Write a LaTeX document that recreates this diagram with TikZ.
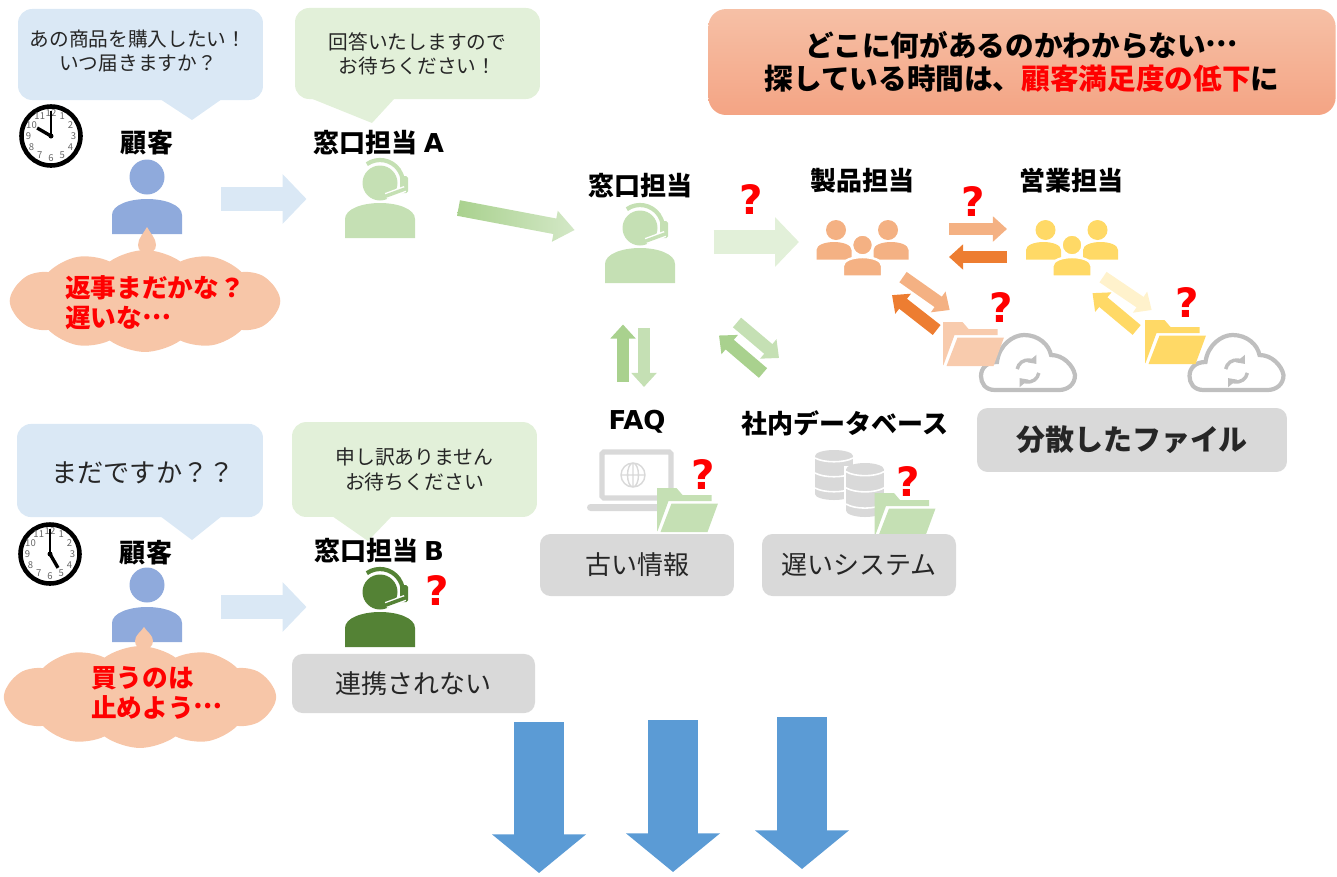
\documentclass[tikz,border=0pt]{standalone}
\usepackage{fontspec}
\setmainfont{Noto Sans CJK JP}
\newfontfamily\latfont{DejaVu Sans}
\usetikzlibrary{calc}
\usetikzlibrary{shapes.symbols}
\usetikzlibrary{arrows.meta}
\definecolor{bubblue}{HTML}{DAE8F5}
\definecolor{bubgreen}{HTML}{E2F0D9}
\definecolor{iconblue}{HTML}{8FAADC}
\definecolor{icongreen}{HTML}{C5E0B4}
\definecolor{icondark}{HTML}{548235}
\definecolor{iconorange}{HTML}{F4B183}
\definecolor{iconyellow}{HTML}{FFD966}
\definecolor{thinkfill}{HTML}{F7C6A8}
\definecolor{greybox}{HTML}{D9D9D9}
\definecolor{cloudgrey}{HTML}{BFBFBF}
\definecolor{midgreen}{HTML}{A9D18E}
\definecolor{deeporange}{HTML}{ED7D31}
\definecolor{paleyellow}{HTML}{FFF2CC}
\definecolor{salmon}{HTML}{F8CBAD}
\definecolor{bannertop}{HTML}{F6C0A6}
\definecolor{bannerlow}{HTML}{F4A484}
\definecolor{bigblue}{HTML}{5B9BD5}
\definecolor{textdark}{HTML}{262626}
\newcommand{\bustpath}{(-35,35) -- (-35,16) .. controls (-35,6) and (-18,0) .. (0,0)
	.. controls (18,0) and (35,6) .. (35,16) -- (35,35) -- cycle}
\newcommand{\middots}{\raisebox{.34em}{…}}
\tikzset{
	bubble/.style={rounded corners=8pt, align=center, inner sep=0pt, text=textdark,
		font=\fontsize{11.2}{13.6}\selectfont},
	tagbox/.style={rounded corners=6pt, fill=greybox, inner sep=0pt, text=textdark,
		font=\fontsize{14.8}{17}\selectfont},
	label/.style={inner sep=0pt, font=\fontsize{14.8}{17}\selectfont\bfseries},
	thought/.style={cloud, cloud ignores aspect, cloud puffs=12, cloud puff arc=72,
		fill=thinkfill, inner sep=0pt},
	thinktext/.style={align=left, inner sep=0pt, text=red,
		font=\fontsize{14.6}{17}\selectfont\bfseries},
	query/.style={inner sep=0pt, text=red, font=\fontsize{23}{23}\latfont\bfseries},
	manbox/.style={inner sep=0pt, minimum width=40pt, minimum height=40pt},
	groupbox/.style={inner sep=0pt, minimum width=52pt, minimum height=35pt},
	folderbox/.style={inner sep=0pt, minimum width=34.7pt, minimum height=25pt},
	clocknum/.style={inner sep=0pt, text=black!60, font=\fontsize{5.4}{5.4}\selectfont},
	smallarrow/.style={line width=7.2pt, -{Triangle[length=8pt,width=14pt]}, draw=#1},
	midarrow/.style={line width=13.8pt, -{Triangle[length=13.6pt,width=27.5pt]}, draw=#1},
	bigarrow/.style={line width=28pt, -{Triangle[length=22pt,width=52.3pt]}, draw=bigblue},
	pics/person/.style={code={
		\fill[#1] (0,-22) circle (17.5);
		\fill[#1] \bustpath;
	}},
	pics/agent/.style={code={
		\fill[#1] (0,-20) circle (17.5);
		\draw[#1, line width=2.4pt] ([shift={(-125:23)}]0,-20) arc (-125:-8:23);
		\fill[#1, rounded corners=1pt] (20,-27) rectangle (28,-10);
		\draw[white, line width=3.6pt] (6,-7) -- (25,-14);
		\draw[#1, line width=2pt, line cap=round] (6,-7) -- (25,-14);
		\fill[#1] \bustpath;
	}},
	pics/crowd/.style={code={
		\fill[#1] (-26,-15) circle (10);
		\fill[#1] (26,-15) circle (10);
		\fill[#1, shift={(-28,-3)}, scale=.5] \bustpath;
		\fill[#1, shift={(29,-3)}, scale=.5] \bustpath;
		\draw[white, line width=1.4pt, fill=#1] (0.5,0) circle (10.5);
		\draw[white, line width=1.4pt, fill=#1, shift={(0.5,12)}, scale=.56] \bustpath;
	}},
	pics/folder/.style={code={
		\fill[#1] (-30.5,-22) -- (-11,-22) -- (-5,-15) -- (24,-15) -- (24,-9) -- (-19,-9)
			-- (-30,21) -- (-30.5,21) -- cycle;
		\fill[#1] (-16,-6.5) -- (30.5,-6.5) -- (20,22) -- (-27,22) -- cycle;
	}},
	pics/syncloud/.style={code={
		\draw[cloudgrey, line width=2.4pt] (-33,27) .. controls (-43,27) and (-47,20) .. (-47,13)
			.. controls (-47,5) and (-41,-1) .. (-31,-1) .. controls (-29,-18) and (-15,-28) .. (-4,-28)
			.. controls (11,-28) and (21,-18) .. (23,-8) .. controls (35,-8) and (45,2) .. (47,12)
			.. controls (47,22) and (39,27) .. (31,27) -- cycle;
		\draw[cloudgrey, line width=2pt, -{Triangle[length=4pt,width=6.5pt]}]
			([shift={(-170:11)}]0,8) arc (-170:-40:11);
		\draw[cloudgrey, line width=2pt, -{Triangle[length=4pt,width=6.5pt]}]
			([shift={(10:11)}]0,8) arc (10:140:11);
	}},
	pics/clock/.style={code={
		\draw[black, line width=2.6pt, fill=white] (0,0) circle (29.5);
		\foreach \h in {1,...,12}
			\node[clocknum] (n\h) at ({22.5*sin(30*\h)},{-22.5*cos(30*\h)}) {\h};
		\draw[black, line width=1.4pt] (0,0) -- (0,-25);
		\draw[black, line width=1.9pt] (0,0) -- ({16*sin(#1)},{-16*cos(#1)});
		\fill[black] (0,0) circle (2.5);
	}},
	pics/laptop/.style={code={
		\draw[greybox, line width=3pt, fill=white, rounded corners=1pt] (-31,-23) rectangle (38,23);
		\draw[greybox, line width=.8pt] (0,0) circle (12) (-12,0) -- (12,0) (0,-12) -- (0,12)
			(0,0) ellipse (5.5 and 12);
		\fill[greybox, rounded corners=2pt] (-46,29) rectangle (32,36);
	}},
	pics/dbstack/.style={code={
		\fill[white] (-21,-22) rectangle (21,24);
		\fill[greybox] (0,-19) ellipse (19 and 6);
		\fill[greybox] (-19,-19) rectangle (19,19);
		\fill[greybox] (0,19) ellipse (19 and 6);
		\foreach \liney in {-17,-2,13}
			\draw[white, line width=.9pt] (-19,\liney) .. controls (-10,\liney+5) and (10,\liney+5) .. (19,\liney);
	}}
}
\begin{document}
\begin{tikzpicture}[x=0.02cm, y=-0.02cm]
\useasboundingbox (0,0) rectangle (1337,876);

% speech bubbles
\fill[bubblue] (160,99) -- (192,120) -- (222,99) -- cycle;
\node[bubble, fill=bubblue, minimum width=139.4pt, minimum height=51.8pt] (bubA) at (140.5,54.5) {};
\node[bubble] (bubAtext) at (138,51) {あの商品を購入したい！\\いつ届きますか？};
\fill[bubgreen] (310,98) -- (372,123) -- (395,98) -- cycle;
\node[bubble, fill=bubgreen, minimum width=139.4pt, minimum height=51.8pt] (bubB) at (417.5,53.5)
	{回答いたしますので\\お待ちください！};
\fill[bubblue] (160,516) -- (192,540) -- (222,516) -- cycle;
\node[bubble, fill=bubblue, minimum width=140pt, minimum height=53pt] (bubC) at (140,470.5) {};
\node[bubble, font=\fontsize{14.9}{17}\selectfont] (bubCtext) at (143,473) {まだですか？？};
\fill[bubgreen] (332,516) -- (368,541) -- (392,516) -- cycle;
\node[bubble, fill=bubgreen, minimum width=139.4pt, minimum height=54pt,
	font=\fontsize{11.3}{14.6}\selectfont] (bubD) at (414.5,469.5)
	{申し訳ありません\\お待ちください};

% banner
\node[rounded corners=10pt, top color=bannertop, bottom color=bannerlow,
	minimum width=357pt, minimum height=60.3pt, inner sep=0pt, align=center,
	font=\fontsize{16.3}{18.8}\selectfont\bfseries] (banner) at (1022,62)
	{どこに何があるのかわからない\middots\\探している時間は、\textcolor{red}{顧客満足度の低下}に};

% icons
\node[manbox] (custA) at (147,199) {};
\pic at (custA) {person=iconblue};
\node[manbox] (agentA) at (380,203) {};
\pic at (agentA) {agent=icongreen};
\node[manbox] (midAgent) at (640,248) {};
\pic at (midAgent) {agent=icongreen};
\node[groupbox] (prod) at (862,245) {};
\pic at (prod) {crowd=iconorange};
\node[groupbox] (sales) at (1071.5,245) {};
\pic at (sales) {crowd=iconyellow};
\node[manbox] (custB) at (147,607) {};
\pic at (custB) {person=iconblue};
\node[manbox] (agentB) at (380,612) {};
\pic at (agentB) {agent=icondark};

\pic at (1028,363) {syncloud};
\pic at (1236.5,363) {syncloud};
\pic at (633,475) {laptop};
\pic at (834,475) {dbstack};
\pic[yscale=1.08] at (865,490) {dbstack};

\node[folderbox] (foldP) at (973.5,344) {};
\pic at (foldP) {folder=salmon};
\node[folderbox] (foldS) at (1175.5,342) {};
\pic at (foldS) {folder=iconyellow};
\node[folderbox] (foldF) at (687.5,510) {};
\pic at (foldF) {folder=icongreen};
\node[folderbox] (foldD) at (905,515) {};
\pic at (foldD) {folder=icongreen};

\pic (clockA) at (51,136) {clock=300};
\pic (clockB) at (50,554) {clock=150};

% thoughts
\fill[thinkfill] (147,227) .. controls (150,233) and (156,238) .. (156,245)
	.. controls (156,256) and (138,256) .. (138,245) .. controls (138,238) and (144,233) .. (147,227);
\node[thought, minimum width=154pt, minimum height=58pt] (thinkA) at (145,301) {};
\node[thinktext] (thinkAtext) at (155,303) {返事まだかな？\\遅いな\middots};
\fill[thinkfill] (144,627) .. controls (147,632) and (153,635) .. (153,641)
	.. controls (153,652) and (135,652) .. (135,641) .. controls (135,635) and (141,632) .. (144,627);
\node[thought, minimum width=155pt, minimum height=58pt] (thinkB) at (140,697) {};
\node[thinktext] (thinkBtext) at (157,693) {買うのは\\止めよう\middots};

% labels
\node[label] (lblCustA) at (147,143) {顧客};
\node[label] (lblAgentA) at (379,143) {窓口担当 {\latfont A}};
\node[label] (lblMid) at (640,186) {窓口担当};
\node[label] (lblProd) at (862,181) {製品担当};
\node[label] (lblSales) at (1071,181) {営業担当};
\node[label] (faq) at (637,422) {\latfont FAQ};
\node[label] (db) at (845,423) {社内データベース};
\node[label] (lblCustB) at (146,553) {顧客};
\node[label] (lblAgentB) at (379,551) {窓口担当 {\latfont B}};

\node[tagbox, minimum width=110.4pt, minimum height=35.3pt] (oldInfo) at (637,565) {古い情報};
\node[tagbox, minimum width=110.4pt, minimum height=35.3pt] (slowSys) at (859,565) {遅いシステム};
\node[tagbox, minimum width=138.3pt, minimum height=33.6pt, fill=greybox] (noLink) at (413.5,683.5) {連携されない};
\node[tagbox, minimum width=176.4pt, minimum height=36.4pt,
	font=\fontsize{16.5}{19}\selectfont\bfseries] (scattered) at (1132,440) {分散したファイル};

\node[query] (q1) at (751,199) {?};
\node[query] (q2) at (973,201) {?};
\node[query] (q3) at (1001,307) {?};
\node[query] (q4) at (1187,302) {?};
\node[query] (q5) at (703,474) {?};
\node[query] (q6) at (908,481) {?};
\node[query] (q7) at (437,590) {?};

% connectors
\draw[midarrow=bubblue] ($(custA.east)+(39,0)$) -- ($(agentA.west)+(-38,-4)$);
\draw[midarrow=bubblue] ($(custB.east)+(39,0)$) -- ($(agentB.west)+(-38,-5)$);
\draw[midarrow=bubgreen] ($(midAgent.east)+(38,-6)$) -- ($(prod.west)+(-17,-3)$);

\coordinate (gradS) at ($(agentA.east)+(43,5)$);
\coordinate (gradE) at ($(midAgent.west)+(-30,-18)$);
\coordinate (gradB) at ($(gradE)!11.4pt!(gradS)$);
\shade[left color=midgreen, right color=icongreen!75!white]
	($(gradS)!4.5pt!-90:(gradE)$) -- ($(gradB)!4.5pt!90:(gradS)$) -- ($(gradB)!9pt!90:(gradS)$)
	-- (gradE) -- ($(gradB)!9pt!-90:(gradS)$) -- ($(gradB)!4.5pt!-90:(gradS)$)
	-- ($(gradS)!4.5pt!90:(gradE)$) -- cycle;

\draw[smallarrow=iconorange] ($(prod.east)+(41,-16)$) -- ($(sales.west)+(-18.5,-16)$);
\draw[smallarrow=deeporange] ($(sales.west)+(-18.5,12)$) -- ($(prod.east)+(41,12)$);
\draw[smallarrow=iconorange] ($(prod.south)+(41,1)$) -- ($(foldP.west)+(7,-34)$);
\draw[smallarrow=deeporange] ($(foldP.west)+(-6,-14)$) -- ($(prod.south)+(30,19)$);
\draw[smallarrow=paleyellow] ($(sales.south)+(31.5,1)$) -- ($(foldS.west)+(7,-32)$);
\draw[smallarrow=iconyellow] ($(foldS.west)+(-8,-12)$) -- ($(sales.south)+(21,17)$);
\draw[smallarrow=midgreen] ($(faq)+(-14,-40)$) -- ($(midAgent.south)+(-17,41)$);
\draw[smallarrow=icongreen] ($(midAgent.south)+(4,45)$) -- ($(faq)+(7,-35)$);
\draw[smallarrow=icongreen] ($(midAgent.south)+(97,39)$) -- ($(db)+(-66,-65)$);
\draw[smallarrow=midgreen] ($(db)+(-82,-50)$) -- ($(midAgent.south)+(79,52)$);

\coordinate (dropAs) at (539,722);
\coordinate (dropAe) at (539,873);
\coordinate (dropBs) at (673,720);
\coordinate (dropBe) at (673,872);
\coordinate (dropCs) at (802,717);
\coordinate (dropCe) at (802,869);
\draw[bigarrow] (dropAs) -- (dropAe);
\draw[bigarrow] (dropBs) -- (dropBe);
\draw[bigarrow] (dropCs) -- (dropCe);

\end{tikzpicture}
\end{document}
